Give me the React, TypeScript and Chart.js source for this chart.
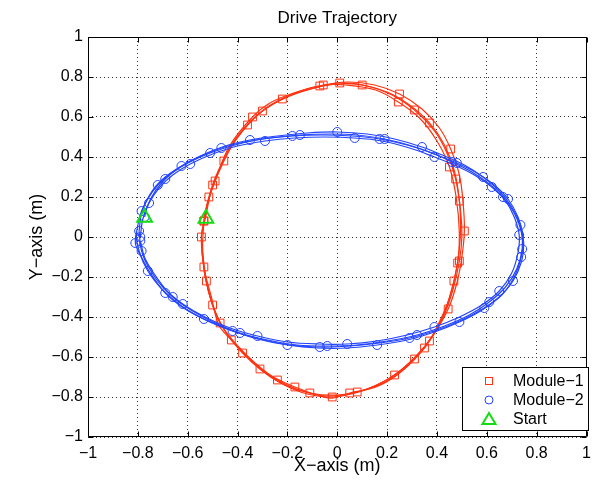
import React, { useEffect, useRef } from "react";
import { Chart, registerables } from "chart.js";

Chart.register(...registerables);

const FONT = "Helvetica, Arial, 'Liberation Sans', sans-serif";
const TITLE = "Drive Trajectory";
const X_TITLE = "X\u2212axis (m)";
const Y_TITLE = "Y\u2212axis (m)";
const LEGEND_LABELS = ["Module\u22121", "Module\u22122", "Start"];
const TICK_VALUES = [-1, -0.8, -0.6, -0.4, -0.2, 0, 0.2, 0.4, 0.6, 0.8, 1];

const RED = "#ff3311";
const BLUE = "#2244ff";
const GREEN = "#11dd11";

type P = [number, number];

// Module-1 laps (x, y in m)
const module1Lap1: P[] = [
  [-0.53, 0.09], [-0.5, 0.26], [-0.47, 0.35], [-0.43, 0.46], [-0.34, 0.6], [-0.27, 0.67],
  [-0.175, 0.72], [-0.056, 0.76], [0.035, 0.76], [0.154, 0.735], [0.245, 0.675], [0.33, 0.595],
  [0.4, 0.48], [0.45, 0.35], [0.477, 0.2], [0.49, 0.02], [0.483, -0.13], [0.45, -0.305],
  [0.4, -0.45], [0.35, -0.555], [0.25, -0.68], [0.155, -0.75], [0.05, -0.78], [-0.015, -0.805],
  [-0.055, -0.8], [-0.17, -0.75], [-0.27, -0.69], [-0.36, -0.6], [-0.425, -0.515], [-0.475, -0.44],
  [-0.505, -0.3], [-0.535, -0.15], [-0.545, 0.0], [-0.53, 0.09],
];
const module1Lap2: P[] = [
  [-0.53, 0.09], [-0.525, 0.15], [-0.49, 0.28], [-0.44, 0.42], [-0.38, 0.53], [-0.3, 0.63],
  [-0.2, 0.7], [-0.09, 0.745], [0.01, 0.77], [0.12, 0.755], [0.22, 0.71], [0.31, 0.635],
  [0.39, 0.53], [0.44, 0.42], [0.475, 0.29], [0.495, 0.13], [0.5, 0.0], [0.49, -0.12],
  [0.465, -0.26], [0.425, -0.4], [0.37, -0.52], [0.29, -0.63], [0.19, -0.72], [0.08, -0.775],
  [-0.04, -0.795], [-0.14, -0.77], [-0.24, -0.715], [-0.33, -0.63], [-0.41, -0.53], [-0.47, -0.43],
  [-0.51, -0.3], [-0.535, -0.16], [-0.545, 0.0], [-0.535, 0.08],
];
const module1Lap3: P[] = [
  [-0.535, 0.08], [-0.53, 0.12], [-0.5, 0.25], [-0.455, 0.38], [-0.4, 0.5], [-0.32, 0.61],
  [-0.22, 0.69], [-0.11, 0.74], [0.0, 0.765], [0.1, 0.76], [0.2, 0.725], [0.29, 0.66],
  [0.37, 0.57], [0.43, 0.46], [0.47, 0.33], [0.49, 0.18], [0.495, 0.04], [0.487, -0.09],
  [0.468, -0.22], [0.435, -0.36], [0.385, -0.49], [0.31, -0.61], [0.215, -0.71], [0.1, -0.77],
  [-0.02, -0.8], [-0.12, -0.785], [-0.22, -0.735], [-0.31, -0.66], [-0.39, -0.56], [-0.455, -0.46],
  [-0.5, -0.34], [-0.53, -0.2], [-0.54, -0.05], [-0.535, 0.08],
];
const module1Lap4: P[] = [
  [-0.535, 0.08], [-0.515, 0.2], [-0.48, 0.32], [-0.43, 0.45], [-0.36, 0.56], [-0.28, 0.65],
  [-0.18, 0.715], [-0.07, 0.755], [0.04, 0.775], [0.15, 0.76], [0.25, 0.715], [0.34, 0.64],
  [0.41, 0.545], [0.455, 0.44], [0.49, 0.31], [0.505, 0.17], [0.51, 0.03], [0.5, -0.1],
  [0.48, -0.23], [0.445, -0.36], [0.39, -0.48], [0.32, -0.59], [0.23, -0.69], [0.12, -0.76],
  [0.0, -0.79], [-0.11, -0.78], [-0.21, -0.74], [-0.3, -0.67], [-0.38, -0.58], [-0.445, -0.48],
  [-0.495, -0.36], [-0.525, -0.22], [-0.54, -0.08],
];

// Module-2 laps (x, y in m)
const module2Lap1: P[] = [
  [-0.773, 0.1], [-0.76, 0.16], [-0.73, 0.23], [-0.69, 0.29], [-0.635, 0.345], [-0.57, 0.39],
  [-0.465, 0.445], [-0.37, 0.475], [-0.27, 0.495], [-0.15, 0.51], [-0.03, 0.515], [0.08, 0.51],
  [0.19, 0.49], [0.3, 0.455], [0.4, 0.41], [0.48, 0.37], [0.56, 0.32], [0.63, 0.26],
  [0.685, 0.19], [0.725, 0.1], [0.745, 0.0], [0.738, -0.1], [0.71, -0.2], [0.66, -0.29],
  [0.59, -0.355], [0.5, -0.415], [0.4, -0.465], [0.29, -0.505], [0.17, -0.53], [0.05, -0.545],
  [-0.07, -0.55], [-0.19, -0.54], [-0.31, -0.51], [-0.42, -0.47], [-0.52, -0.42], [-0.61, -0.36],
  [-0.69, -0.28], [-0.75, -0.18], [-0.79, -0.09], [-0.81, -0.03], [-0.8, 0.06],
];
const module2Lap2: P[] = [
  [-0.8, 0.06], [-0.785, 0.13], [-0.74, 0.235], [-0.69, 0.3], [-0.625, 0.355], [-0.55, 0.405],
  [-0.45, 0.455], [-0.35, 0.485], [-0.24, 0.505], [-0.12, 0.52], [0.0, 0.525], [0.12, 0.515],
  [0.23, 0.49], [0.34, 0.45], [0.43, 0.405], [0.51, 0.36], [0.585, 0.3], [0.65, 0.23],
  [0.7, 0.15], [0.735, 0.06], [0.748, -0.03], [0.74, -0.12], [0.705, -0.22], [0.65, -0.3],
  [0.575, -0.37], [0.49, -0.425], [0.39, -0.475], [0.28, -0.515], [0.16, -0.54], [0.04, -0.555],
  [-0.08, -0.555], [-0.2, -0.54], [-0.32, -0.51], [-0.43, -0.465], [-0.535, -0.41], [-0.625, -0.345],
  [-0.7, -0.265], [-0.76, -0.17], [-0.795, -0.07], [-0.805, 0.02], [-0.79, 0.0],
];
const module2Lap3: P[] = [
  [-0.79, 0.0], [-0.78, 0.09], [-0.755, 0.17], [-0.715, 0.245], [-0.66, 0.31], [-0.59, 0.365],
  [-0.5, 0.415], [-0.4, 0.455], [-0.29, 0.48], [-0.17, 0.495], [-0.05, 0.5], [0.07, 0.495],
  [0.18, 0.48], [0.29, 0.445], [0.39, 0.4], [0.47, 0.36], [0.55, 0.31], [0.62, 0.25],
  [0.675, 0.18], [0.71, 0.1], [0.73, 0.01], [0.725, -0.08], [0.7, -0.18], [0.65, -0.27],
  [0.58, -0.34], [0.49, -0.4], [0.39, -0.45], [0.28, -0.49], [0.16, -0.52], [0.04, -0.535],
  [-0.08, -0.535], [-0.2, -0.525], [-0.32, -0.495], [-0.43, -0.455], [-0.53, -0.4], [-0.62, -0.335],
  [-0.7, -0.25], [-0.755, -0.155], [-0.785, -0.07], [-0.795, 0.03],
];
const module2Lap4: P[] = [
  [-0.795, 0.03], [-0.785, 0.12], [-0.76, 0.19], [-0.72, 0.26], [-0.665, 0.32], [-0.6, 0.37],
  [-0.51, 0.42], [-0.41, 0.46], [-0.3, 0.49], [-0.18, 0.505], [-0.06, 0.51], [0.06, 0.505],
  [0.17, 0.49], [0.28, 0.46], [0.38, 0.42], [0.46, 0.375], [0.54, 0.325], [0.61, 0.265],
  [0.665, 0.2], [0.71, 0.12], [0.738, 0.03], [0.742, -0.06], [0.72, -0.16], [0.675, -0.25],
  [0.61, -0.325], [0.53, -0.39], [0.43, -0.445], [0.32, -0.49], [0.2, -0.52], [0.08, -0.54],
  [-0.04, -0.545], [-0.16, -0.54], [-0.28, -0.515], [-0.39, -0.48], [-0.49, -0.43], [-0.58, -0.37],
  [-0.66, -0.3], [-0.72, -0.21], [-0.77, -0.11], [-0.79, -0.02],
];

const startX = [-0.527, -0.773];
const startY = [0.093, 0.097];

const module1Laps = [module1Lap1, module1Lap2, module1Lap3, module1Lap4];
const module2Laps = [module2Lap1, module2Lap2, module2Lap3, module2Lap4];

const fmt = (v: number) => {
  const r = Math.round(v * 10) / 10;
  if (r === 0) return "0";
  return String(r).replace("-", "\u2212");
};

const framePlugin = {
  id: "frame",
  afterDraw(chart: any) {
    const { ctx, chartArea, scales } = chart;
    const { left, right, top, bottom } = chartArea;
    const xs = scales.x;
    const ys = scales.y;
    ctx.save();
    ctx.strokeStyle = "#000";
    ctx.lineWidth = 1;
    const L = Math.round(left) + 0.5;
    const R = Math.round(right) - 0.5;
    const T = Math.round(top) + 0.5;
    const B = Math.round(bottom) - 0.5;
    ctx.beginPath();
    ctx.rect(L, T, R - L, B - T);
    ctx.stroke();
    ctx.beginPath();
    TICK_VALUES.forEach((v) => {
      const px = Math.round(xs.getPixelForValue(v)) + 0.5;
      ctx.moveTo(px, B);
      ctx.lineTo(px, B - 5);
      ctx.moveTo(px, T);
      ctx.lineTo(px, T + 5);
      const py = Math.round(ys.getPixelForValue(v)) + 0.5;
      ctx.moveTo(L, py);
      ctx.lineTo(L + 5, py);
      ctx.moveTo(R, py);
      ctx.lineTo(R - 5, py);
    });
    ctx.stroke();

    // title
    ctx.fillStyle = "#000";
    ctx.font = `17px ${FONT}`;
    ctx.textAlign = "center";
    ctx.textBaseline = "middle";
    ctx.fillText(TITLE, (left + right) / 2, 18);

    // legend
    const bx = 462.5, by = 367.5, bw = 126, bh = 63;
    ctx.fillStyle = "#fff";
    ctx.fillRect(bx, by, bw, bh);
    ctx.strokeStyle = "#000";
    ctx.lineWidth = 1;
    ctx.strokeRect(bx, by, bw, bh);
    const rows = [381, 400, 419];
    const mx = 489;
    ctx.font = `16px ${FONT}`;
    ctx.textAlign = "left";
    ctx.textBaseline = "middle";
    ctx.fillStyle = "#000";
    LEGEND_LABELS.forEach((lab, i) => {
      ctx.fillText(lab, 513, rows[i] + 1);
    });
    ctx.lineWidth = 1;
    ctx.strokeStyle = RED;
    ctx.strokeRect(mx - 3.5, rows[0] - 3.5, 7, 7);
    ctx.strokeStyle = BLUE;
    ctx.beginPath();
    ctx.arc(mx, rows[1], 4, 0, Math.PI * 2);
    ctx.stroke();
    ctx.strokeStyle = GREEN;
    ctx.lineWidth = 2;
    ctx.beginPath();
    ctx.moveTo(mx, rows[2] - 6);
    ctx.lineTo(mx + 6.5, rows[2] + 5);
    ctx.lineTo(mx - 6.5, rows[2] + 5);
    ctx.closePath();
    ctx.stroke();
    ctx.restore();
  },
};

export default function App() {
  const ref = useRef<HTMLCanvasElement>(null);
  useEffect(() => {
    if (!ref.current) return;
    const toPts = (lap: P[]) => lap.map(([x, y]) => ({ x, y }));
    const lapDataset = (lap: P[], color: string, style: string, radius: number, k: number) => ({
      data: toPts(lap),
      showLine: true,
      borderColor: color,
      backgroundColor: "transparent",
      borderWidth: 1.2,
      tension: 0.35,
      pointStyle: style,
      pointBorderColor: color,
      pointBackgroundColor: "transparent",
      pointBorderWidth: 1,
      pointRadius: (c: any) => (c.dataIndex % 3 === k ? radius : 0),
      pointHoverRadius: 0,
    });
    const datasets: any[] = [
      {
        data: startX.map((x, i) => ({ x, y: startY[i] })),
        showLine: false,
        pointStyle: "triangle",
        pointRadius: 8.5,
        pointBorderColor: GREEN,
        pointBackgroundColor: "transparent",
        pointBorderWidth: 2,
      },
      ...module2Laps.map((l, i) => lapDataset(l, BLUE, "circle", 4.5, i % 3)),
      ...module1Laps.map((l, i) => lapDataset(l, RED, "rect", 5.5, (i + 1) % 3)),
    ];
    const chart = new Chart(ref.current, {
      type: "scatter",
      data: { datasets },
      plugins: [framePlugin],
      options: {
        animation: false,
        responsive: false,
        layout: { padding: { top: 37, right: 2, left: 0, bottom: 0 } },
        plugins: { legend: { display: false }, tooltip: { enabled: false }, title: { display: false } },
        scales: {
          x: {
            type: "linear",
            min: -1,
            max: 1,
            afterBuildTicks: (s: any) => {
              s.ticks = TICK_VALUES.map((v) => ({ value: v }));
            },
            afterFit: (s: any) => {
              s.height = 43;
              s.paddingLeft = 0;
              s.paddingRight = 0;
            },
            ticks: {
              callback: (v: any) => fmt(Number(v)),
              color: "#000",
              font: { family: FONT, size: 16 },
              padding: 7,
              maxRotation: 0,
              autoSkip: false,
            },
            grid: { color: "#333", lineWidth: 1, drawTicks: false },
            border: { display: false, dash: [1, 3] },
            title: {
              display: true,
              text: X_TITLE,
              color: "#000",
              font: { family: FONT, size: 18 },
              padding: { top: 0, bottom: 3 },
            },
          },
          y: {
            type: "linear",
            min: -1,
            max: 1,
            afterBuildTicks: (s: any) => {
              s.ticks = TICK_VALUES.map((v) => ({ value: v }));
            },
            afterFit: (s: any) => {
              s.width = 88;
              s.paddingTop = 0;
              s.paddingBottom = 0;
            },
            ticks: {
              callback: (v: any) => fmt(Number(v)),
              color: "#000",
              font: { family: FONT, size: 16 },
              padding: 5,
              autoSkip: false,
            },
            grid: { color: "#333", lineWidth: 1, drawTicks: false },
            border: { display: false, dash: [1, 3] },
            title: {
              display: true,
              text: Y_TITLE,
              color: "#000",
              font: { family: FONT, size: 18 },
              padding: { top: 26, bottom: 0 },
            },
          },
        },
      } as any,
    });
    return () => chart.destroy();
  }, []);
  return (
    <div style={{ position: "fixed", left: 0, top: 0, width: 597, height: 480, background: "#fff" }}>
      <canvas ref={ref} width={597} height={480} style={{ display: "block" }} />
    </div>
  );
}
